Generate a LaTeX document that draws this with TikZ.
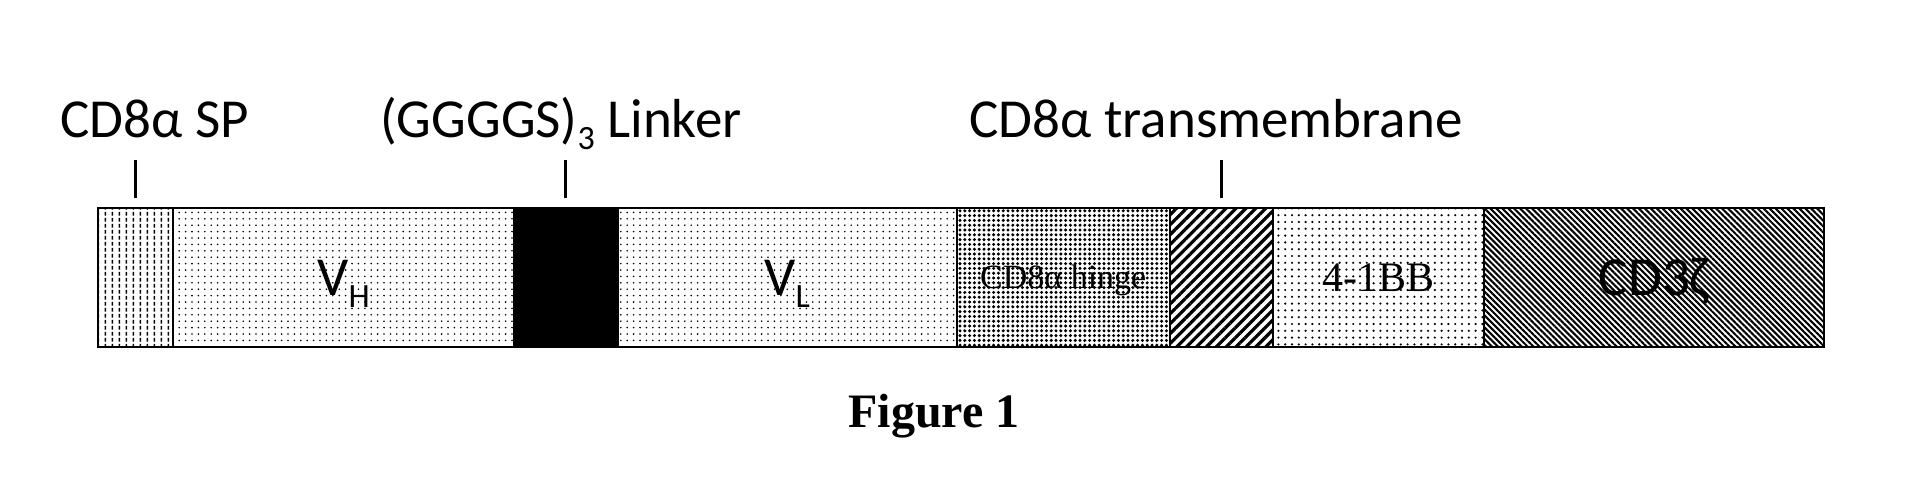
\documentclass[tikz,border=0pt]{standalone}
\usepackage{fontspec}
\setmainfont{Carlito}
\newfontfamily\serifface{Liberation Serif}
\usetikzlibrary{patterns,patterns.meta}
\newcommand\lowsub[1]{\raisebox{-6pt}{\fontsize{17}{17}\selectfont #1}}

\pgfdeclarepatternformonly{vdashes}{\pgfqpoint{0pt}{0pt}}{\pgfqpoint{3.4pt}{3.2pt}}{\pgfqpoint{3.4pt}{3.2pt}}{%
  \pgfsetlinewidth{0.8pt}
  \pgfpathmoveto{\pgfqpoint{1.7pt}{0.2pt}}
  \pgfpathlineto{\pgfqpoint{1.7pt}{2.3pt}}
  \pgfusepath{stroke}}

\begin{document}
\begin{tikzpicture}[x=0.5pt,y=-0.5pt,
  seg/.style={draw,line width=1pt,minimum height=69.5pt,inner sep=0pt,outer sep=0pt,text height=17.5pt,text depth=0pt,font=\fontsize{27.5}{30}\selectfont},
  lbl/.style={inner sep=0pt,anchor=base,font=\fontsize{27.5}{30}\selectfont},
  tick/.style={line width=1.6pt}]
\useasboundingbox (0,0) rectangle (1912,494);

\path (135.35,277.5) node[seg,minimum width=37.65pt,pattern=vdashes](sp){} (343.5,277.5) node[seg,minimum width=170.5pt,pattern={Dots[distance=3.2pt,radius=0.45pt]}](vh){V\lowsub{H}} (565.75,277.5) node[seg,minimum width=51.75pt,fill=black](linker){} (787.25,277.5) node[seg,minimum width=169.75pt,pattern={Dots[distance=3.2pt,radius=0.45pt]}](vl){V\lowsub{L}} (1063.25,277.5) node[seg,minimum width=106.25pt,pattern={Dots[distance=2.4pt,radius=0.85pt]},text height=11pt,font=\serifface\fontsize{17}{20}\selectfont](hinge){CD8α hinge} (1221.25,277.5) node[seg,minimum width=51.75pt,pattern={Lines[angle=45,distance=3.5pt,line width=1.6pt]}](tm){} (1378.5,277.5) node[seg,minimum width=105.5pt,pattern={Dots[distance=3.4pt,radius=0.6pt]},text height=14pt,font=\serifface\fontsize{21}{24}\selectfont](bb){4-1BB} (1654,277.5) node[seg,minimum width=170pt,pattern={Lines[angle=-45,distance=2.1pt,line width=1.05pt]}](zeta){CD3ζ};

\path (60,137) node[lbl,anchor=base west](splabel){CD8α SP} (561,137) node[lbl](linkerlabel){(GGGGS)\lowsub{3} Linker} (1216,137) node[lbl](tmlabel){CD8α transmembrane} (934,427) node[lbl,font=\serifface\bfseries\fontsize{24}{28}\selectfont](caption){Figure 1};

\draw[tick] ([yshift=5pt]sp.north) -- ++(0,-38);
\draw[tick] ([yshift=5pt]linker.north) -- ++(0,-38);
\draw[tick] ([yshift=5pt]tm.north) -- ++(0,-38);
\end{tikzpicture}
\end{document}
